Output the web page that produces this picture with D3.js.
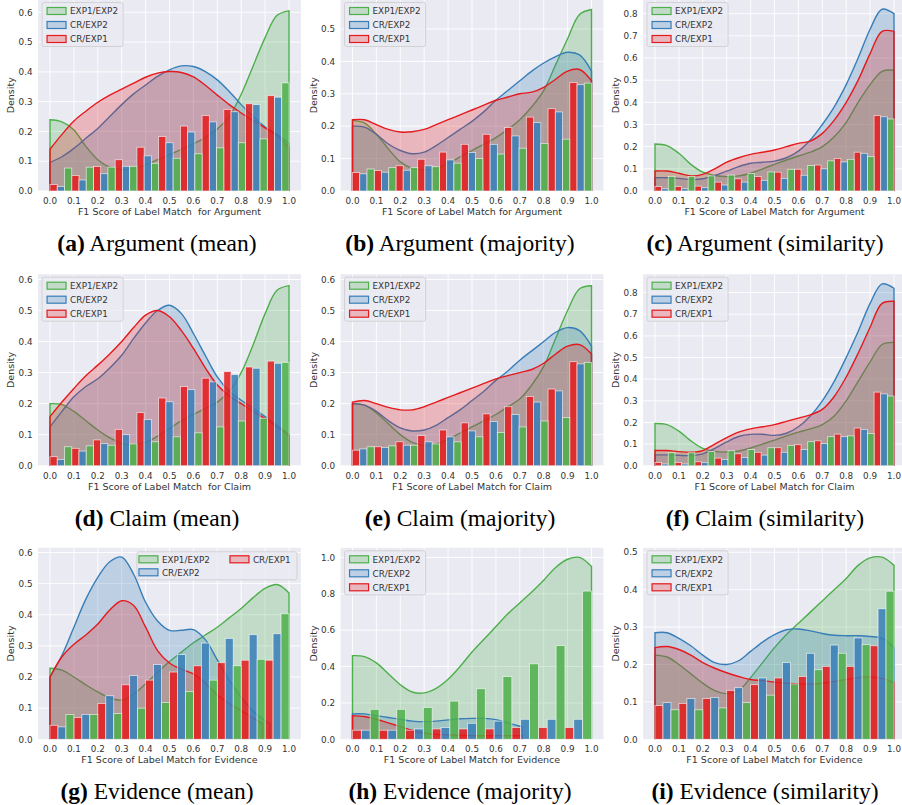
<!DOCTYPE html>
<html>
<head>
<meta charset="utf-8">
<script src="https://cdn.jsdelivr.net/npm/d3@7"></script>
<style>
  body { margin: 0; background: #fff; }
  svg text { font-family: "DejaVu Sans", sans-serif; }
</style>
</head>
<body>
<svg id="chart" width="902" height="805"></svg>
<script>
// series, in legend order
const seriesNames = ["EXP1/EXP2", "CR/EXP2", "CR/EXP1"];
const seriesKeys = ["exp", "cr2", "cr1"];
const seriesColors = ["#4daf4a", "#377eb8", "#e41a1c"];
const barOrder = ["cr1", "cr2", "exp"]; // dodge order inside each bin

const panelIds = ["a", "b", "c", "d", "e", "f", "g", "h", "i"];
const captionTitles = ["Argument (mean)", "Argument (majority)", "Argument (similarity)",
                       "Claim (mean)", "Claim (majority)", "Claim (similarity)",
                       "Evidence (mean)", "Evidence (majority)", "Evidence (similarity)"];
const xLabels = ["F1 Score of Label Match  for Argument", "F1 Score of Label Match for Argument", "F1 Score of Label Match for Argument",
                 "F1 Score of Label Match  for Claim", "F1 Score of Label Match for Claim", "F1 Score of Label Match for Claim",
                 "F1 Score of Label Match for Evidence", "F1 Score of Label Match for Evidence", "F1 Score of Label Match for Evidence"];
const yLimits = [0.643, 0.591, 0.864, 0.617, 0.617, 0.885, 0.615, 1.053, 0.512];
const yTickSteps = [0.1, 0.1, 0.1, 0.1, 0.1, 0.1, 0.1, 0.2, 0.1];
const xTicks = [0, 0.1, 0.2, 0.3, 0.4, 0.5, 0.6, 0.7, 0.8, 0.9, 1.0];

// histogram densities per bin
const histA = {
  cr1: [0.022, 0.052, 0.082, 0.105, 0.147, 0.183, 0.218, 0.253, 0.274, 0.293, 0.32],
  cr2: [0.015, 0.037, 0.058, 0.083, 0.118, 0.162, 0.198, 0.232, 0.266, 0.29, 0.315],
  exp: [0.077, 0.08, 0.08, 0.083, 0.093, 0.11, 0.125, 0.145, 0.162, 0.175, 0.363]
};
const histB = {
  cr1: [0.057, 0.063, 0.078, 0.098, 0.12, 0.144, 0.175, 0.196, 0.228, 0.254, 0.335],
  cr2: [0.053, 0.058, 0.064, 0.078, 0.096, 0.119, 0.144, 0.17, 0.211, 0.244, 0.328],
  exp: [0.068, 0.072, 0.072, 0.075, 0.086, 0.1, 0.114, 0.132, 0.147, 0.16, 0.333]
};
const histC = {
  cr1: [0.02, 0.02, 0.022, 0.04, 0.055, 0.065, 0.085, 0.098, 0.117, 0.147, 0.175, 0.34],
  cr2: [0.01, 0.01, 0.015, 0.027, 0.04, 0.048, 0.057, 0.071, 0.1, 0.131, 0.17, 0.335],
  exp: [0.066, 0.065, 0.068, 0.072, 0.079, 0.086, 0.098, 0.115, 0.136, 0.143, 0.155, 0.325]
};
const histD = {
  cr1: [0.029, 0.056, 0.083, 0.117, 0.171, 0.218, 0.255, 0.282, 0.303, 0.318, 0.337],
  cr2: [0.02, 0.047, 0.071, 0.1, 0.149, 0.206, 0.245, 0.27, 0.294, 0.314, 0.33],
  exp: [0.061, 0.064, 0.066, 0.07, 0.077, 0.093, 0.106, 0.125, 0.144, 0.153, 0.333]
};
const histE = {
  cr1: [0.05, 0.061, 0.077, 0.097, 0.115, 0.138, 0.167, 0.19, 0.223, 0.247, 0.335],
  cr2: [0.054, 0.059, 0.066, 0.077, 0.093, 0.112, 0.142, 0.165, 0.205, 0.241, 0.328],
  exp: [0.061, 0.064, 0.066, 0.07, 0.077, 0.093, 0.107, 0.125, 0.144, 0.155, 0.333]
};
const histF = {
  cr1: [0.015, 0.015, 0.018, 0.035, 0.055, 0.062, 0.083, 0.097, 0.115, 0.146, 0.174, 0.34],
  cr2: [0.008, 0.008, 0.014, 0.029, 0.038, 0.049, 0.062, 0.075, 0.102, 0.134, 0.168, 0.332],
  exp: [0.06, 0.06, 0.065, 0.069, 0.075, 0.083, 0.094, 0.111, 0.134, 0.138, 0.149, 0.322]
};
const histG = {
  cr1: [0.045, 0.07, 0.115, 0.175, 0.19, 0.216, 0.236, 0.246, 0.254, 0.254],
  cr2: [0.04, 0.08, 0.14, 0.205, 0.24, 0.272, 0.309, 0.324, 0.336, 0.339],
  exp: [0.08, 0.08, 0.083, 0.1, 0.118, 0.153, 0.19, 0.236, 0.257, 0.403]
};
const histH = {
  cr1: [0.05, 0.05, 0.05, 0.057, 0.057, 0.057, 0.065, 0.065, 0.065],
  cr2: [0.05, 0.05, 0.057, 0.065, 0.088, 0.1, 0.11, 0.11, 0.11],
  exp: [0.165, 0.165, 0.175, 0.21, 0.278, 0.345, 0.415, 0.515, 0.815]
};
const histI = {
  cr1: [0.09, 0.096, 0.109, 0.131, 0.146, 0.164, 0.168, 0.195, 0.195, 0.25],
  cr2: [0.098, 0.109, 0.112, 0.138, 0.164, 0.205, 0.23, 0.252, 0.271, 0.349],
  exp: [0.079, 0.079, 0.084, 0.098, 0.118, 0.148, 0.186, 0.23, 0.253, 0.396]
};

// KDE curves read at these x positions (last point of a short curve sits at its cut)
const kdeX = [0, 0.05, 0.1, 0.15, 0.2, 0.25, 0.3, 0.35, 0.4, 0.45, 0.5,
              0.55, 0.6, 0.65, 0.7, 0.75, 0.8, 0.85, 0.9, 0.95, 1.0];
const kdeA = {
  exp: [0.239, 0.232, 0.205, 0.15, 0.105, 0.08, 0.072, 0.075, 0.088, 0.105, 0.122, 0.14, 0.158, 0.18, 0.208, 0.25, 0.325, 0.42, 0.515, 0.59, 0.605],
  cr2: [0.096, 0.115, 0.143, 0.177, 0.21, 0.25, 0.29, 0.326, 0.356, 0.385, 0.407, 0.42, 0.418, 0.401, 0.373, 0.334, 0.29, 0.25, 0.215, 0.19, 0.16],
  cr1: [0.14, 0.19, 0.235, 0.268, 0.298, 0.322, 0.342, 0.362, 0.382, 0.396, 0.401, 0.398, 0.383, 0.355, 0.322, 0.29, 0.262, 0.237, 0.212, 0.185, 0.145]
};
const kdeB = {
  exp: [0.218, 0.21, 0.175, 0.13, 0.09, 0.07, 0.065, 0.07, 0.085, 0.105, 0.125, 0.145, 0.165, 0.19, 0.22, 0.26, 0.31, 0.39, 0.47, 0.545, 0.56],
  cr2: [0.2, 0.197, 0.175, 0.145, 0.125, 0.115, 0.12, 0.14, 0.165, 0.19, 0.215, 0.245, 0.28, 0.31, 0.34, 0.37, 0.395, 0.415, 0.428, 0.42, 0.37],
  cr1: [0.22, 0.22, 0.205, 0.19, 0.182, 0.183, 0.19, 0.205, 0.22, 0.235, 0.25, 0.265, 0.28, 0.29, 0.3, 0.305, 0.32, 0.345, 0.37, 0.375, 0.34]
};
const kdeC = {
  exp: [0.212, 0.205, 0.17, 0.12, 0.085, 0.07, 0.065, 0.068, 0.08, 0.1, 0.12, 0.14, 0.158, 0.175, 0.2, 0.245, 0.31, 0.4, 0.48, 0.54, 0.545],
  cr2: [0.06, 0.06, 0.057, 0.052, 0.055, 0.07, 0.09, 0.11, 0.125, 0.13, 0.135, 0.15, 0.18, 0.23, 0.3, 0.38, 0.48, 0.6, 0.73, 0.82, 0.8],
  cr1: [0.09, 0.09, 0.08, 0.068, 0.075, 0.1, 0.13, 0.15, 0.165, 0.175, 0.185, 0.2, 0.215, 0.225, 0.26, 0.32, 0.4, 0.5, 0.62, 0.72, 0.72]
};
const kdeD = {
  exp: [0.2, 0.197, 0.175, 0.145, 0.115, 0.09, 0.072, 0.068, 0.075, 0.095, 0.12, 0.145, 0.165, 0.185, 0.205, 0.24, 0.3, 0.39, 0.49, 0.565, 0.58],
  cr2: [0.125, 0.175, 0.222, 0.255, 0.28, 0.315, 0.356, 0.41, 0.46, 0.5, 0.517, 0.49, 0.426, 0.355, 0.286, 0.24, 0.211, 0.185, 0.158, 0.13, 0.1],
  cr1: [0.158, 0.205, 0.249, 0.29, 0.324, 0.36, 0.4, 0.445, 0.485, 0.5, 0.48, 0.435, 0.378, 0.315, 0.26, 0.225, 0.2, 0.175, 0.152, 0.125, 0.097]
};
const kdeE = {
  exp: [0.2, 0.195, 0.17, 0.135, 0.1, 0.075, 0.065, 0.07, 0.085, 0.105, 0.125, 0.145, 0.165, 0.19, 0.215, 0.26, 0.32, 0.41, 0.5, 0.57, 0.58],
  cr2: [0.2, 0.195, 0.175, 0.145, 0.122, 0.112, 0.115, 0.13, 0.155, 0.18, 0.21, 0.24, 0.275, 0.305, 0.34, 0.37, 0.4, 0.43, 0.445, 0.435, 0.385],
  cr1: [0.205, 0.21, 0.2, 0.188, 0.18, 0.18, 0.19, 0.205, 0.22, 0.235, 0.25, 0.265, 0.28, 0.29, 0.3, 0.31, 0.33, 0.36, 0.385, 0.39, 0.36]
};
const kdeF = {
  exp: [0.195, 0.19, 0.16, 0.115, 0.08, 0.066, 0.063, 0.068, 0.082, 0.1, 0.118, 0.138, 0.155, 0.17, 0.19, 0.23, 0.3, 0.39, 0.48, 0.56, 0.57],
  cr2: [0.05, 0.05, 0.048, 0.047, 0.055, 0.08, 0.11, 0.135, 0.145, 0.145, 0.14, 0.15, 0.18, 0.23, 0.3, 0.39, 0.5, 0.62, 0.75, 0.84, 0.82],
  cr1: [0.07, 0.07, 0.065, 0.062, 0.07, 0.1, 0.13, 0.155, 0.17, 0.18, 0.19, 0.205, 0.22, 0.235, 0.26, 0.32, 0.41, 0.52, 0.64, 0.75, 0.76]
};
const kdeG = {
  exp: [0.228, 0.222, 0.2, 0.175, 0.152, 0.133, 0.126, 0.145, 0.178, 0.215, 0.25, 0.28, 0.31, 0.335, 0.36, 0.39, 0.42, 0.455, 0.485, 0.497, 0.47],
  cr2: [0.2, 0.27, 0.36, 0.45, 0.52, 0.57, 0.585, 0.53, 0.44, 0.38, 0.35, 0.35, 0.352, 0.32, 0.255, 0.19, 0.135, 0.09, 0.06, 0.05],
  cr1: [0.2, 0.265, 0.305, 0.335, 0.37, 0.415, 0.445, 0.43, 0.36, 0.285, 0.245, 0.225, 0.21, 0.18, 0.143, 0.115, 0.092, 0.068, 0.05]
};
const kdeH = {
  exp: [0.46, 0.455, 0.42, 0.36, 0.3, 0.26, 0.255, 0.28, 0.33, 0.4, 0.48, 0.55, 0.62, 0.69, 0.75, 0.81, 0.875, 0.945, 0.99, 1.0, 0.95],
  cr2: [0.14, 0.14, 0.13, 0.12, 0.11, 0.1, 0.097, 0.1, 0.107, 0.113, 0.115, 0.115, 0.108, 0.09, 0.072, 0.068],
  cr1: [0.13, 0.125, 0.11, 0.09, 0.07, 0.05, 0.035, 0.028, 0.025, 0.022, 0.02, 0.02, 0.02, 0.02, 0.02, 0.02]
};
const kdeI = {
  exp: [0.225, 0.22, 0.2, 0.175, 0.15, 0.13, 0.122, 0.13, 0.165, 0.205, 0.245, 0.28, 0.31, 0.34, 0.37, 0.4, 0.43, 0.465, 0.485, 0.487, 0.465],
  cr2: [0.285, 0.285, 0.27, 0.25, 0.225, 0.205, 0.2, 0.21, 0.235, 0.26, 0.28, 0.293, 0.295, 0.29, 0.283, 0.278, 0.277, 0.277, 0.275, 0.27, 0.245],
  cr1: [0.245, 0.248, 0.24, 0.225, 0.205, 0.19, 0.178, 0.168, 0.16, 0.157, 0.153, 0.15, 0.148, 0.148, 0.15, 0.155, 0.16, 0.165, 0.167, 0.163, 0.152]
};
// where a KDE stops before 1.0 (cut at the data max)
const kdeCuts = { g: { cr2: 0.92, cr1: 0.89 }, h: { cr2: 0.71, cr1: 0.71 } };

const hists = [histA, histB, histC, histD, histE, histF, histG, histH, histI];
const kdes = [kdeA, kdeB, kdeC, kdeD, kdeE, kdeF, kdeG, kdeH, kdeI];

// layout
const colZero = [50, 352.5, 655];      // pixel of x = 0 in each column
const unit = 239;                       // pixels per 1.0 on x
const rowBottom = [191, 465.7, 739.3];  // pixel of y = 0 in each row
const plotH = 191.5;
const captionX = [157, 460, 765];

const svg = d3.select('#chart');
const fmt = d3.format('.1f');

panelIds.forEach((id, p) => {
    const col = p % 3, row = Math.floor(p / 3);
    const hist = hists[p], kde = kdes[p];

    const x = d3.scaleLinear()
        .domain([-0.05, 1.05])
        .range([colZero[col] - 0.05 * unit, colZero[col] + 1.05 * unit]);
    const y = d3.scaleLinear()
        .domain([0, yLimits[p]])
        .range([rowBottom[row], rowBottom[row] - plotH]);

    const left = x(-0.05), right = x(1.05), top = y(yLimits[p]), bottom = y(0);

    const g = svg.append('g');
    g.append('clipPath').attr('id', 'clip-' + id)
        .append('rect').attr('x', left).attr('y', top)
        .attr('width', right - left).attr('height', bottom - top);

    g.append('rect')
        .attr('x', left).attr('y', top)
        .attr('width', right - left).attr('height', bottom - top)
        .attr('fill', '#eaeaf2');

    const yTicks = d3.range(0, yLimits[p] + 1e-9, yTickSteps[p]);

    // grid
    const grid = g.append('g').attr('clip-path', `url(#clip-${id})`);
    xTicks.forEach(t => {
        grid.append('line').attr('x1', x(t)).attr('x2', x(t))
            .attr('y1', top).attr('y2', bottom)
            .attr('stroke', '#fff').attr('stroke-width', 0.9);
    });
    yTicks.forEach(t => {
        grid.append('line').attr('x1', left).attr('x2', right)
            .attr('y1', y(t)).attr('y2', y(t))
            .attr('stroke', '#fff').attr('stroke-width', 0.9);
    });

    const plot = g.append('g').attr('clip-path', `url(#clip-${id})`);
    const curve = d3.curveCatmullRom.alpha(0.5);
    const area = d3.area().curve(curve)
        .x(d => x(d[0])).y0(y(0)).y1(d => y(d[1]));
    const line = d3.line().curve(curve)
        .x(d => x(d[0])).y(d => y(d[1]));

    // KDE fills and outlines: green, blue, red
    seriesKeys.forEach((key, s) => {
        const vals = kde[key];
        const cut = (kdeCuts[id] && kdeCuts[id][key]) || 1.0;
        const pts = vals.map((v, i) => [i === vals.length - 1 ? cut : kdeX[i], v]);
        plot.append('path')
            .attr('d', area(pts))
            .attr('fill', seriesColors[s])
            .attr('fill-opacity', 0.25);
        const outline = `M${x(pts[0][0])},${y(0)}` + line(pts).replace(/^M/, 'L') +
            `L${x(pts[pts.length - 1][0])},${y(0)}`;
        plot.append('path')
            .attr('d', outline)
            .attr('fill', 'none')
            .attr('stroke', seriesColors[s])
            .attr('stroke-width', 1.4);
    });

    // dodged histogram bars
    const nBins = hist.cr1.length;
    const binW = 1 / nBins;
    barOrder.forEach((key, j) => {
        const s = seriesKeys.indexOf(key);
        plot.selectAll(null)
            .data(hist[key])
            .enter().append('rect')
            .attr('x', (d, i) => x(i * binW + j * binW / 3))
            .attr('width', (d, i) => x(i * binW + (j + 1) * binW / 3) - x(i * binW + j * binW / 3))
            .attr('y', d => y(d))
            .attr('height', d => y(0) - y(d))
            .attr('fill', seriesColors[s])
            .attr('fill-opacity', 0.85)
            .attr('stroke', '#fff')
            .attr('stroke-opacity', 0.7)
            .attr('stroke-width', 0.8);
    });

    // tick labels
    xTicks.forEach(t => {
        g.append('text').attr('x', x(t)).attr('y', bottom + 13)
            .attr('text-anchor', 'middle').attr('font-size', 8.8)
            .attr('fill', '#333').text(fmt(t));
    });
    yTicks.forEach(t => {
        g.append('text').attr('x', left - 5.5).attr('y', y(t) + 3.2)
            .attr('text-anchor', 'end').attr('font-size', 8.8)
            .attr('fill', '#333').text(fmt(t));
    });

    g.append('text')
        .attr('x', (left + right) / 2).attr('y', bottom + 24)
        .attr('text-anchor', 'middle').attr('font-size', 9.5)
        .attr('fill', '#333').style('white-space', 'pre')
        .text(xLabels[p]);
    g.append('text')
        .attr('transform', `translate(${left - 24},${(top + bottom) / 2}) rotate(-90)`)
        .attr('text-anchor', 'middle').attr('font-size', 9.5)
        .attr('fill', '#333').text('Density');

    // legend
    const lg = g.append('g');
    if (id === 'g') {
        const bw = 160, bx = right - 4 - bw, by = top + 4;
        lg.append('rect').attr('x', bx).attr('y', by).attr('width', bw).attr('height', 28)
            .attr('rx', 2).attr('fill', '#eaeaf2').attr('fill-opacity', 0.8)
            .attr('stroke', '#ccc').attr('stroke-width', 0.8);
        const slots = [[0, 0], [0, 1], [1, 0]]; // column-first fill
        seriesKeys.forEach((key, s) => {
            const cx = bx + 2 + slots[s][0] * 91, cy = by + 7.5 + slots[s][1] * 13;
            lg.append('rect').attr('x', cx).attr('y', cy - 3.5).attr('width', 19).attr('height', 7)
                .attr('fill', seriesColors[s]).attr('fill-opacity', 0.25)
                .attr('stroke', seriesColors[s]).attr('stroke-width', 1.2);
            lg.append('text').attr('x', cx + 23).attr('y', cy + 3.2)
                .attr('font-size', 8.8).attr('fill', '#333').text(seriesNames[s]);
        });
    } else {
        const bx = left + 4, by = top + 3;
        lg.append('rect').attr('x', bx).attr('y', by).attr('width', 81).attr('height', 44)
            .attr('rx', 2).attr('fill', '#eaeaf2').attr('fill-opacity', 0.8)
            .attr('stroke', '#ccc').attr('stroke-width', 0.8);
        seriesKeys.forEach((key, s) => {
            const cy = by + 8.5 + s * 14;
            lg.append('rect').attr('x', bx + 5).attr('y', cy - 3.5).attr('width', 19).attr('height', 7)
                .attr('fill', seriesColors[s]).attr('fill-opacity', 0.25)
                .attr('stroke', seriesColors[s]).attr('stroke-width', 1.2);
            lg.append('text').attr('x', bx + 28).attr('y', cy + 3.2)
                .attr('font-size', 8.8).attr('fill', '#333').text(seriesNames[s]);
        });
    }

    // caption under the panel
    const cap = svg.append('text')
        .attr('x', captionX[col]).attr('y', rowBottom[row] + 60)
        .attr('text-anchor', 'middle')
        .style('font-family', '"Liberation Serif", "Times New Roman", serif')
        .attr('font-size', 23.5).attr('fill', '#000');
    cap.append('tspan').attr('font-weight', 'bold').text(`(${id})`);
    cap.append('tspan').text(' ' + captionTitles[p]);
});
</script>
</body>
</html>
